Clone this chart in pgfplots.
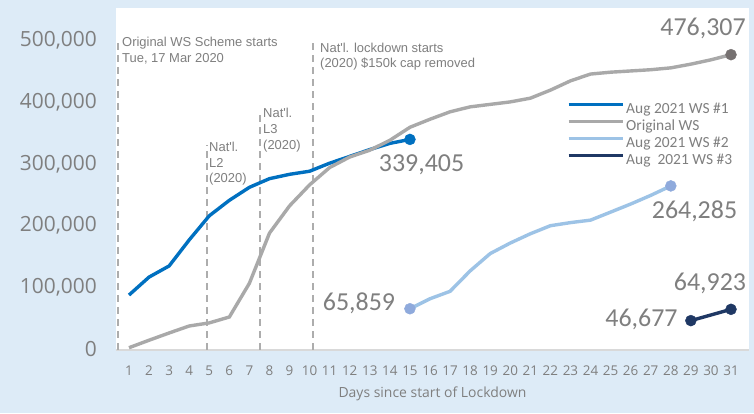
\documentclass[border=0pt]{standalone}
\usepackage{pgfplots}
\pgfplotsset{compat=1.18}
\usepackage{fontspec}
\setmainfont{Open Sans}
\newfontfamily\numfont{Carlito}
\newfontfamily\annfont{Liberation Sans}
\definecolor{bg}{HTML}{DDEBF7}
\definecolor{c1}{HTML}{0070C0}
\definecolor{cg}{HTML}{A9A9A9}
\definecolor{cgd}{HTML}{767171}
\definecolor{c2}{HTML}{9DC3E6}
\definecolor{c2d}{HTML}{8FAADC}
\definecolor{c3}{HTML}{1F3864}
\definecolor{txt}{HTML}{7F7F7F}
\definecolor{dsh}{HTML}{ADADAD}
\begin{document}
\begin{tikzpicture}[x=1bp,y=1bp]
\fill[bg] (-116,-63) rectangle (638,350);
\begin{axis}[
  at={(0,0)}, anchor=south west,
  scale only axis, width=633bp, height=342bp,
  xmin=0.352, xmax=31.897, ymin=-800, ymax=551700,
  clip=false,
  scaled y ticks=false, scaled x ticks=false,
  axis background/.style={fill=white},
  axis x line=bottom, axis y line=left,
  axis line style={-},
  x axis line style={-, draw=black!15, line width=1.3bp},
  y axis line style={draw=none},
  major tick length=0pt,
  /pgf/number format/assume math mode=true,
  xtick={1,...,31},
  ytick={0,100000,200000,300000,400000,500000},
  yticklabels={0,{100,000},{200,000},{300,000},{400,000},{500,000}},
  xticklabel style={font=\fontsize{13.5}{14}\selectfont, text=txt, anchor=north, inner sep=0pt, yshift=-16bp},
  yticklabel style={font=\fontsize{21}{22}\selectfont, text=txt, anchor=east, inner sep=0pt, xshift=-19bp},
  xlabel={Days since start of Lockdown},
  every axis x label/.style={at={(axis description cs:0.5,0)}, anchor=base, yshift=-47bp, font=\fontsize{14}{15}\selectfont, text=txt},
  legend style={at={(axis description cs:0.7125,0.7228)}, anchor=north west, draw=none, fill=none, inner sep=0pt, row sep=4bp,
    font=\numfont\fontsize{15.5}{16}\selectfont, text=txt,
    nodes={inner sep=0pt, text height=10.5bp, text depth=2.5bp},
    /tikz/every odd column/.append style={column sep=2bp}},
  legend cell align=left,
  legend image code/.code={\draw[#1, line width=3bp] (0bp,5bp) -- (54bp,5bp);},
]
% dashed event lines
\addplot[dsh, line width=2.5bp, dash pattern=on 7bp off 5bp, forget plot] coordinates {(0.45,0) (0.45,503000)};
\addplot[dsh, line width=2.5bp, dash pattern=on 7bp off 5bp, forget plot] coordinates {(4.89,0) (4.89,330000)};
\addplot[dsh, line width=2.5bp, dash pattern=on 7bp off 5bp, forget plot] coordinates {(7.53,0) (7.53,382000)};
\addplot[dsh, line width=2.5bp, dash pattern=on 7bp off 5bp, forget plot] coordinates {(10.17,0) (10.17,495000)};

\addplot[c1, line width=3.4bp, no markers] coordinates {
(1,88000)(2,117000)(3,135000)(4,177000)(5,216000)(6,241000)(7,262000)(8,276000)
(9,283000)(10,288000)(11,301000)(12,312000)(13,323000)(14,333000)(15,339405)};
\addlegendentry{Aug 2021 WS \#1}
\addplot[cg, line width=3.4bp, no markers] coordinates {
(1,2900)(2,15000)(3,26700)(4,38000)(5,43000)(6,52500)(7,107000)(8,188000)
(9,232000)(10,266000)(11,294000)(12,311000)(13,322000)(14,338000)(15,359000)
(16,372000)(17,384000)(18,392000)(19,396000)(20,400000)(21,406000)(22,419000)
(23,434000)(24,445000)(25,448000)(26,450000)(27,452000)(28,455000)(29,461000)
(30,468000)(31,476307)};
\addlegendentry{Original WS}
\addplot[c2, line width=3.4bp, no markers] coordinates {
(15,65859)(16,82000)(17,94000)(18,127000)(19,155000)(20,172000)(21,187000)
(22,200000)(23,205000)(24,209000)(25,222000)(26,235000)(27,249000)(28,264285)};
\addlegendentry{Aug 2021 WS \#2}
\addplot[c3, line width=3.4bp, no markers] coordinates {(29,46677)(30,55800)(31,64923)};
\addlegendentry{Aug\ \ 2021 WS \#3}

% end markers
\addplot[only marks, mark=*, mark size=5.5bp, c1, forget plot] coordinates {(15,339405)};
\addplot[only marks, mark=*, mark size=5.5bp, cgd, forget plot] coordinates {(31,476307)};
\addplot[only marks, mark=*, mark size=5.5bp, c2d, forget plot] coordinates {(15,65859)(28,264285)};
\addplot[only marks, mark=*, mark size=5.5bp, c3, forget plot] coordinates {(29,46677)(31,64923)};

% data labels
\begin{scope}[every node/.style={anchor=base, inner sep=0pt, text=txt, font=\numfont\fontsize{26}{28}\selectfont}]
\node at (axis cs:15.576,287200) {339,405};
\node at (axis cs:29.604,508000) {476,307};
\node at (axis cs:29.18,212400) {264,285};
\node at (axis cs:29.95,96100) {64,923};
\node at (axis cs:26.54,36800) {46,677};
\node at (axis cs:12.46,63800) {65,859};
\end{scope}

% annotations
\begin{scope}[every node/.style={anchor=base west, inner sep=0pt, text=txt, font=\annfont\fontsize{13}{14}\selectfont}]
\node at (axis cs:0.651,489200) {Original WS Scheme starts};
\node at (axis cs:0.651,463300) {Tue, 17 Mar 2020};
\node at (axis cs:10.518,480100) {Nat\textquotesingle l. lockdown starts};
\node at (axis cs:10.518,455600) {(2020) \$150k cap removed};
\node at (axis cs:7.678,375100) {Nat\textquotesingle l.};
\node at (axis cs:7.678,349300) {L3};
\node at (axis cs:7.678,323400) {(2020)};
\node at (axis cs:4.987,319500) {Nat\textquotesingle l.};
\node at (axis cs:4.987,294300) {L2};
\node at (axis cs:4.987,269800) {(2020)};
\end{scope}
\end{axis}
\end{tikzpicture}
\end{document}
